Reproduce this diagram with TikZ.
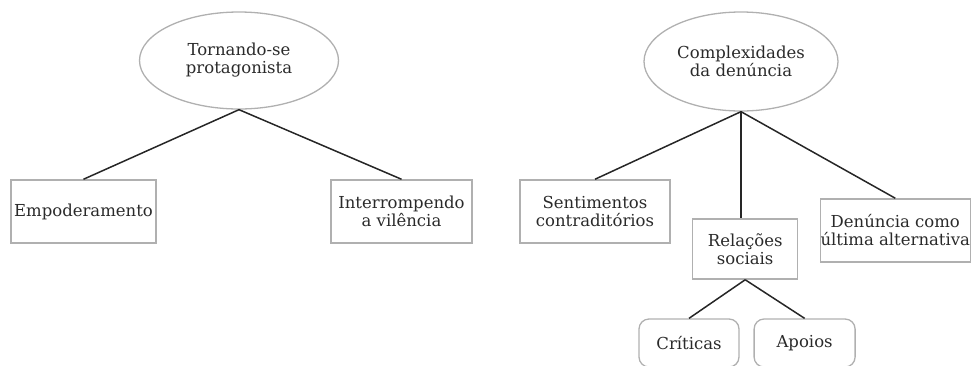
\documentclass[tikz,border=0pt]{standalone}
\usepackage{fontspec}
\setmainfont{DejaVu Serif}
\usetikzlibrary{shapes.geometric}
\definecolor{txt}{HTML}{2A2A2A}
\definecolor{boxline}{HTML}{B0B0B0}
\definecolor{conn}{HTML}{262626}
\begin{document}
\begin{tikzpicture}[x=1pt,y=-1pt,
  every node/.style={font=\fontsize{16.5}{18}\selectfont, text=txt, align=center, inner sep=0pt},
  oval/.style={ellipse, draw=boxline, line width=1.3pt},
  sqbox/.style={rectangle, draw=boxline, line width=1.5pt},
  rbox/.style={rectangle, rounded corners=10pt, draw=boxline, line width=1.3pt},
  link/.style={draw=conn, line width=1.5pt}]
\useasboundingbox (0,0) rectangle (971,365);
\node[oval, minimum width=199pt, minimum height=97pt] (e1) at (239,60.5) {Tornando-se\\protagonista};
\node[oval, minimum width=194pt, minimum height=99pt] (e2) at (741,61.5) {Complexidades\\da denúncia};
\node[sqbox, minimum width=145pt, minimum height=63pt] (emp) at (83.5,211.5) {Empoderamento};
\node[sqbox, minimum width=141pt, minimum height=63pt] (int) at (401.5,211.5) {Interrompendo\\a vilência};
\node[sqbox, minimum width=150pt, minimum height=63pt] (sent) at (595,211.5) {Sentimentos\\contraditórios};
\node[sqbox, minimum width=105pt, minimum height=60pt] (rel) at (745.2,249) {Relações\\sociais};
\node[sqbox, minimum width=150pt, minimum height=63pt] (den) at (895.3,230.5) {Denúncia como\\última alternativa};
\node[rbox, minimum width=100pt, minimum height=48pt] (crit) at (689,343) {Críticas};
\node[rbox, minimum width=101pt, minimum height=48pt] (apo) at (804.6,343) {Apoios};
\draw[link] (e1.south) -- (emp.north);
\draw[link] (e1.south) -- (int.north);
\draw[link] (e2.south) -- (sent.north);
\draw[link] (e2.south) -- (e2.south |- rel.north);
\draw[link] (e2.south) -- (den.north);
\draw[link] (rel.south) -- (crit.north);
\draw[link] (rel.south) -- (apo.north);
\end{tikzpicture}
\end{document}
